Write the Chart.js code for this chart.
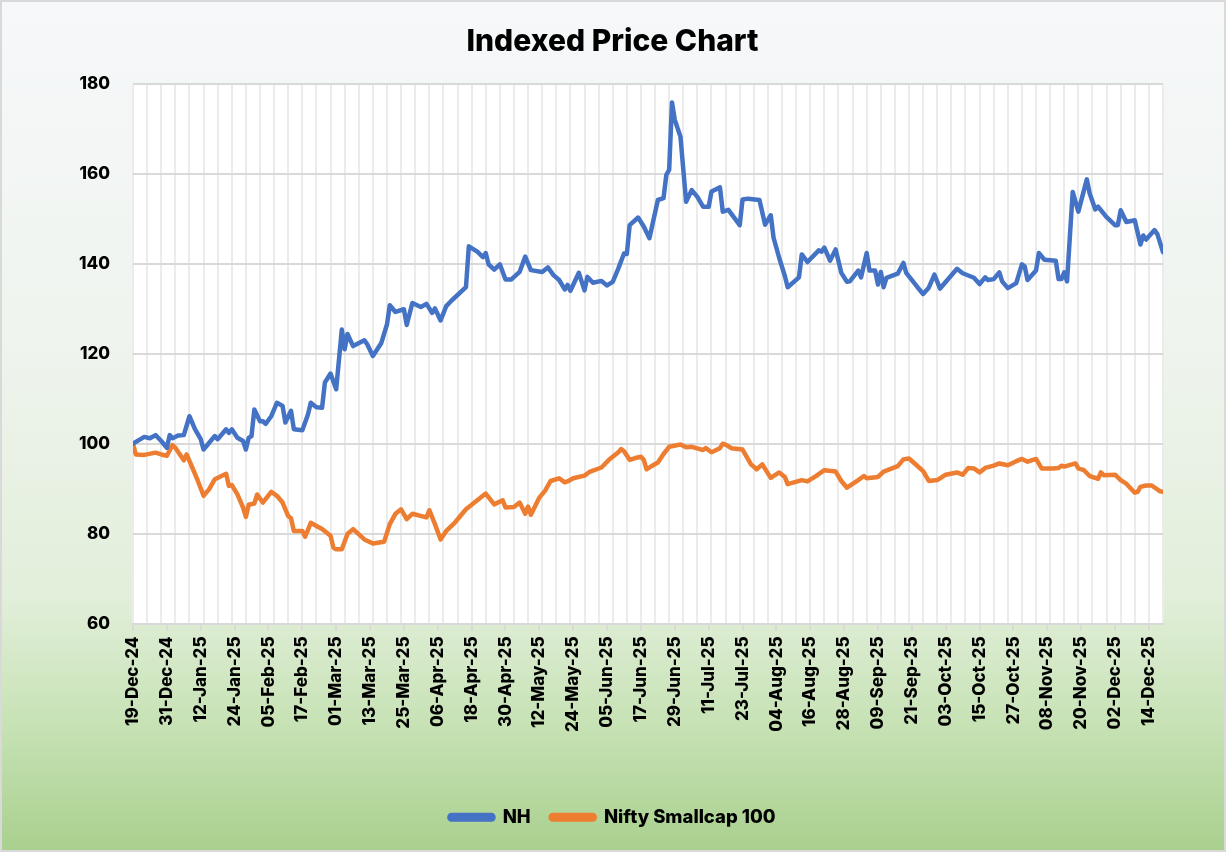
<!DOCTYPE html>
<html>
<head>
<meta charset="utf-8">
<title>Indexed Price Chart</title>
<script src="https://cdn.jsdelivr.net/npm/chart.js@4.4.1/dist/chart.umd.min.js"></script>
<style>
  html, body { margin: 0; padding: 0; }
  #wrap {
    position: relative; width: 1226px; height: 852px; overflow: hidden;
    background: linear-gradient(to bottom, #f6f8fa 0%, #eff4ee 40%, #e2efda 70%, #c7e2b5 85%, #a9d08e 100%);
  }
  #frame {
    position: absolute; left: 0; top: 0; width: 1226px; height: 852px;
    box-sizing: border-box; border: 2px solid #d9d9d9; pointer-events: none;
  }
  canvas { position: absolute; left: 0; top: 0; }
</style>
</head>
<body>
<div id="wrap">
  <canvas id="mychart" width="1226" height="852"></canvas>
  <div id="frame"></div>
</div>
<script>
// NH (index = 100 on 19-Dec-24)
var nhDates = [
  '2024-12-19','2024-12-23','2024-12-25','2024-12-27','2024-12-29','2024-12-31','2025-01-01','2025-01-02','2025-01-04','2025-01-06',
  '2025-01-08','2025-01-10','2025-01-12','2025-01-13','2025-01-15','2025-01-17','2025-01-18','2025-01-21','2025-01-22','2025-01-23',
  '2025-01-25','2025-01-27','2025-01-28','2025-01-29','2025-01-30','2025-01-31','2025-02-02','2025-02-03','2025-02-04','2025-02-06',
  '2025-02-08','2025-02-10','2025-02-11','2025-02-13','2025-02-14','2025-02-17','2025-02-19','2025-02-20','2025-02-22','2025-02-24',
  '2025-02-25','2025-02-27','2025-03-01','2025-03-03','2025-03-04','2025-03-05','2025-03-07','2025-03-11','2025-03-12','2025-03-14',
  '2025-03-17','2025-03-19','2025-03-20','2025-03-22','2025-03-25','2025-03-26','2025-03-28','2025-03-31','2025-04-02','2025-04-04',
  '2025-04-05','2025-04-07','2025-04-09','2025-04-11','2025-04-16','2025-04-17','2025-04-20','2025-04-22','2025-04-23','2025-04-24',
  '2025-04-26','2025-04-28','2025-04-30','2025-05-02','2025-05-05','2025-05-07','2025-05-09','2025-05-13','2025-05-15','2025-05-17',
  '2025-05-19','2025-05-21','2025-05-22','2025-05-23','2025-05-26','2025-05-28','2025-05-29','2025-05-31','2025-06-03','2025-06-05',
  '2025-06-07','2025-06-09','2025-06-11','2025-06-12','2025-06-13','2025-06-16','2025-06-18','2025-06-20','2025-06-23','2025-06-25',
  '2025-06-26','2025-06-27','2025-06-28','2025-06-29','2025-07-01','2025-07-03','2025-07-05','2025-07-07','2025-07-09','2025-07-11',
  '2025-07-12','2025-07-15','2025-07-16','2025-07-18','2025-07-22','2025-07-23','2025-07-25','2025-07-29','2025-07-31','2025-08-02',
  '2025-08-03','2025-08-05','2025-08-07','2025-08-08','2025-08-12','2025-08-13','2025-08-15','2025-08-19','2025-08-20','2025-08-21',
  '2025-08-23','2025-08-25','2025-08-27','2025-08-29','2025-08-30','2025-09-02','2025-09-03','2025-09-05','2025-09-06','2025-09-08',
  '2025-09-09','2025-09-10','2025-09-11','2025-09-12','2025-09-16','2025-09-18','2025-09-19','2025-09-23','2025-09-25','2025-09-27',
  '2025-09-29','2025-10-01','2025-10-07','2025-10-09','2025-10-13','2025-10-15','2025-10-17','2025-10-18','2025-10-20','2025-10-22',
  '2025-10-23','2025-10-25','2025-10-28','2025-10-30','2025-10-31','2025-11-01','2025-11-04','2025-11-05','2025-11-07','2025-11-11',
  '2025-11-12','2025-11-13','2025-11-14','2025-11-15','2025-11-17','2025-11-19','2025-11-22','2025-11-23','2025-11-25','2025-11-26',
  '2025-11-29','2025-12-02','2025-12-03','2025-12-04','2025-12-06','2025-12-09','2025-12-11','2025-12-12','2025-12-13','2025-12-16',
  '2025-12-17','2025-12-19'
];
var nhValues = [
  100, 101.5, 101.2, 101.9, 100.6, 99.1, 101.9, 101.2, 101.8, 101.9,
  106.1, 103.2, 101, 98.7, 100.2, 101.7, 101, 103.2, 102.4, 103.2,
  101.3, 100.6, 98.7, 101.3, 101.7, 107.6, 105, 105, 104.4, 106.1,
  109.1, 108.4, 104.7, 107.3, 103.2, 103, 106.5, 109.1, 108.1, 108,
  113.6, 115.6, 112.1, 125.4, 121, 124.4, 121.7, 123, 122.1, 119.5,
  122.4, 126.5, 130.8, 129.3, 129.9, 126.4, 131.3, 130.4, 131.1, 129.1,
  130.1, 127.4, 130.6, 131.9, 134.8, 143.9, 142.7, 141.5, 142.4, 139.9,
  138.7, 139.9, 136.5, 136.5, 138.2, 141.6, 138.6, 138.2, 139.2, 137.5,
  136.4, 134.3, 135.3, 134, 138, 134.1, 137.1, 135.8, 136.2, 135.2,
  136, 139, 142.3, 142.2, 148.6, 150.3, 148.3, 145.7, 154.2, 154.6,
  159.8, 160.9, 175.9, 172, 168.3, 153.8, 156.4, 154.9, 152.7, 152.7,
  156.1, 157, 151.6, 152, 148.6, 154.3, 154.5, 154.2, 148.7, 150.8,
  145.8, 141.3, 137.3, 134.8, 137, 142.1, 140.4, 143, 142.7, 143.6,
  140.7, 143.2, 138, 136, 136.1, 138.5, 137, 142.4, 138.5, 138.5,
  135.4, 138.2, 134.8, 136.9, 137.8, 140.2, 138, 134.8, 133.3, 134.7,
  137.6, 134.5, 138.9, 137.9, 136.9, 135.5, 137, 136.4, 136.6, 138.1,
  136.1, 134.6, 135.7, 139.9, 139.4, 136.4, 138.5, 142.4, 140.9, 140.7,
  136.6, 136.6, 138.1, 136.1, 156, 151.6, 158.8, 155.7, 152.1, 152.7,
  150.4, 148.6, 148.6, 151.9, 149.3, 149.7, 144.3, 146.3, 145.4, 147.5,
  146.6, 142.6
];

// Nifty Smallcap 100
var niftyDates = [
  '2024-12-19','2024-12-20','2024-12-23','2024-12-27','2024-12-29','2024-12-31','2025-01-02','2025-01-03','2025-01-06','2025-01-07',
  '2025-01-09','2025-01-11','2025-01-13','2025-01-15','2025-01-17','2025-01-21','2025-01-22','2025-01-23','2025-01-25','2025-01-27',
  '2025-01-28','2025-01-29','2025-01-31','2025-02-01','2025-02-03','2025-02-06','2025-02-08','2025-02-10','2025-02-12','2025-02-13',
  '2025-02-14','2025-02-17','2025-02-18','2025-02-20','2025-02-22','2025-02-24','2025-02-27','2025-02-28','2025-03-01','2025-03-03',
  '2025-03-05','2025-03-07','2025-03-11','2025-03-14','2025-03-18','2025-03-20','2025-03-22','2025-03-24','2025-03-26','2025-03-28',
  '2025-04-02','2025-04-03','2025-04-05','2025-04-07','2025-04-09','2025-04-12','2025-04-16','2025-04-20','2025-04-23','2025-04-26',
  '2025-04-29','2025-04-30','2025-05-03','2025-05-05','2025-05-07','2025-05-08','2025-05-09','2025-05-12','2025-05-14','2025-05-16',
  '2025-05-19','2025-05-21','2025-05-22','2025-05-24','2025-05-28','2025-05-30','2025-06-03','2025-06-06','2025-06-09','2025-06-10',
  '2025-06-11','2025-06-13','2025-06-15','2025-06-17','2025-06-18','2025-06-19','2025-06-21','2025-06-23','2025-06-25','2025-06-27',
  '2025-07-01','2025-07-03','2025-07-05','2025-07-09','2025-07-10','2025-07-12','2025-07-15','2025-07-16','2025-07-17','2025-07-19',
  '2025-07-23','2025-07-26','2025-07-28','2025-07-30','2025-08-02','2025-08-05','2025-08-07','2025-08-08','2025-08-13','2025-08-15',
  '2025-08-18','2025-08-21','2025-08-25','2025-08-27','2025-08-29','2025-09-02','2025-09-04','2025-09-05','2025-09-09','2025-09-11',
  '2025-09-16','2025-09-18','2025-09-20','2025-09-22','2025-09-25','2025-09-27','2025-09-30','2025-10-03','2025-10-07','2025-10-09',
  '2025-10-11','2025-10-13','2025-10-15','2025-10-17','2025-10-20','2025-10-22','2025-10-25','2025-10-28','2025-10-30','2025-11-01',
  '2025-11-04','2025-11-06','2025-11-10','2025-11-12','2025-11-13','2025-11-14','2025-11-18','2025-11-19','2025-11-21','2025-11-23',
  '2025-11-26','2025-11-27','2025-11-28','2025-12-02','2025-12-04','2025-12-06','2025-12-09','2025-12-10','2025-12-11','2025-12-13',
  '2025-12-15','2025-12-18','2025-12-19'
];
var niftyValues = [
  100, 97.6, 97.5, 98, 97.6, 97.3, 99.7, 99.1, 96.3, 97.6,
  94.7, 91.7, 88.4, 89.9, 92.1, 93.3, 90.6, 90.8, 88.7, 85.8,
  83.7, 86.4, 86.7, 88.7, 86.9, 89.3, 88.4, 86.9, 83.9, 83.4,
  80.6, 80.6, 79.3, 82.4, 81.7, 81, 79.5, 76.9, 76.5, 76.5,
  79.9, 81, 78.7, 77.8, 78.2, 82.1, 84.4, 85.4, 83.2, 84.4,
  83.6, 85.2, 82.1, 78.7, 80.6, 82.4, 85.4, 87.4, 88.9, 86.5,
  87.4, 85.8, 85.9, 86.9, 84.4, 86, 84.2, 88, 89.5, 91.7,
  92.3, 91.4, 91.6, 92.3, 92.9, 93.8, 94.7, 96.6, 98.1, 98.8,
  98.3, 96.4, 96.8, 97.1, 96.4, 94.3, 95.1, 95.8, 97.7, 99.3,
  99.8, 99.2, 99.3, 98.6, 99, 98.1, 99, 100, 99.8, 99,
  98.7, 95.4, 94.3, 95.4, 92.4, 93.6, 92.6, 91, 91.9, 91.6,
  92.8, 94.1, 93.8, 91.7, 90.2, 91.9, 92.8, 92.3, 92.6, 93.8,
  95, 96.5, 96.7, 95.6, 93.9, 91.7, 91.9, 93.1, 93.6, 93.1,
  94.6, 94.5, 93.6, 94.6, 95.1, 95.6, 95.2, 96.1, 96.6, 96,
  96.6, 94.5, 94.5, 94.6, 95.1, 94.9, 95.6, 94.5, 94.1, 92.8,
  92.2, 93.6, 93, 93.1, 91.9, 91.1, 89.1, 89.3, 90.4, 90.7,
  90.7, 89.4, 89.3
];

var startDate = '2024-12-19';
var endDate = '2025-12-19';
var labelEvery = 12;   // days between date labels
var gridEvery = 5;     // days between vertical gridlines
var months = ['Jan','Feb','Mar','Apr','May','Jun','Jul','Aug','Sep','Oct','Nov','Dec'];

var DAY = 86400000;
function toMs(s){ var p = s.split('-'); return Date.UTC(+p[0], +p[1]-1, +p[2]); }
var t0 = toMs(startDate);
var lastDay = Math.round((toMs(endDate) - t0) / DAY);
function dayNo(s){ return Math.round((toMs(s) - t0) / DAY); }
function fmtDay(n){
    var d = new Date(t0 + n * DAY);
    var dd = ('0' + d.getUTCDate()).slice(-2);
    var yy = ('0' + (d.getUTCFullYear() % 100)).slice(-2);
    return dd + '-' + months[d.getUTCMonth()] + '-' + yy;
}
function points(dates, vals){
    var out = [];
    for (var i = 0; i < dates.length; i++) out.push({x: dayNo(dates[i]), y: vals[i]});
    return out;
}

var FONT = 'Inter, "Noto Sans", sans-serif';

var plotBg = {
    id: 'plotBg',
    beforeDraw: function(chart){
        var a = chart.chartArea, c = chart.ctx;
        c.save();
        c.fillStyle = '#ffffff';
        c.fillRect(a.left, a.top, a.right - a.left, a.bottom - a.top);
        c.restore();
    }
};

const ctx = document.getElementById('mychart');
var myLineChart = new Chart(ctx, {
    type: 'line',
    data: {
        datasets: [
            {
                label: 'NH',
                data: points(nhDates, nhValues),
                borderColor: '#4472C4',
                backgroundColor: '#4472C4',
                borderWidth: 4.5,
                pointRadius: 0,
                tension: 0,
                borderJoinStyle: 'round',
                borderCapStyle: 'round'
            },
            {
                label: 'Nifty Smallcap 100',
                data: points(niftyDates, niftyValues),
                borderColor: '#ED7D31',
                backgroundColor: '#ED7D31',
                borderWidth: 4.5,
                pointRadius: 0,
                tension: 0,
                borderJoinStyle: 'round',
                borderCapStyle: 'round'
            }
        ]
    },
    options: {
        responsive: false,
        animation: false,
        events: [],
        // left padding mirrors the right one so title and legend sit in the middle of the page
        layout: { padding: { top: 24, right: 63, bottom: 15.5, left: 62 } },
        plugins: {
            title: {
                display: true,
                text: 'Indexed Price Chart',
                color: '#000000',
                font: { family: FONT, size: 30, weight: '800' },
                padding: { top: 0, bottom: 24 }
            },
            legend: {
                position: 'bottom',
                labels: {
                    color: '#000000',
                    font: { family: FONT, size: 18.5, weight: '800' },
                    boxWidth: 44,
                    boxHeight: 4.5,
                    padding: 20,
                    useBorderRadius: true,
                    borderRadius: 2
                }
            },
            tooltip: { enabled: false }
        },
        scales: {
            x: {
                type: 'linear',
                min: 0,
                max: lastDay,
                afterBuildTicks: function(axis){
                    var t = [];
                    for (var d = 0; d <= lastDay; d++) t.push({value: d});
                    axis.ticks = t;
                },
                afterFit: function(axis){ axis.height = 164.5; },
                ticks: {
                    autoSkip: false,
                    minRotation: 90,
                    maxRotation: 90,
                    padding: 6,
                    color: '#000000',
                    font: { family: FONT, size: 17, weight: '800' },
                    callback: function(v){ return v % labelEvery === 0 ? fmtDay(v) : ''; }
                },
                grid: {
                    color: function(c){ return c.tick && c.tick.value % gridEvery === 0 ? '#ebebeb' : 'rgba(0,0,0,0)'; },
                    tickColor: function(c){ return c.tick && c.tick.value % labelEvery === 0 ? '#d9d9d9' : 'rgba(0,0,0,0)'; },
                    lineWidth: 2,
                    tickLength: 7
                },
                border: { color: '#d9d9d9', width: 2 }
            },
            y: {
                min: 60,
                max: 180,
                afterFit: function(axis){ axis.width = 71; },
                ticks: {
                    stepSize: 20,
                    padding: 23,
                    color: '#000000',
                    font: { family: FONT, size: 17, weight: '800' }
                },
                grid: { color: '#d9d9d9', lineWidth: 2, drawTicks: false },
                border: { display: false }
            }
        }
    },
    plugins: [plotBg]
});
</script>
</body>
</html>
